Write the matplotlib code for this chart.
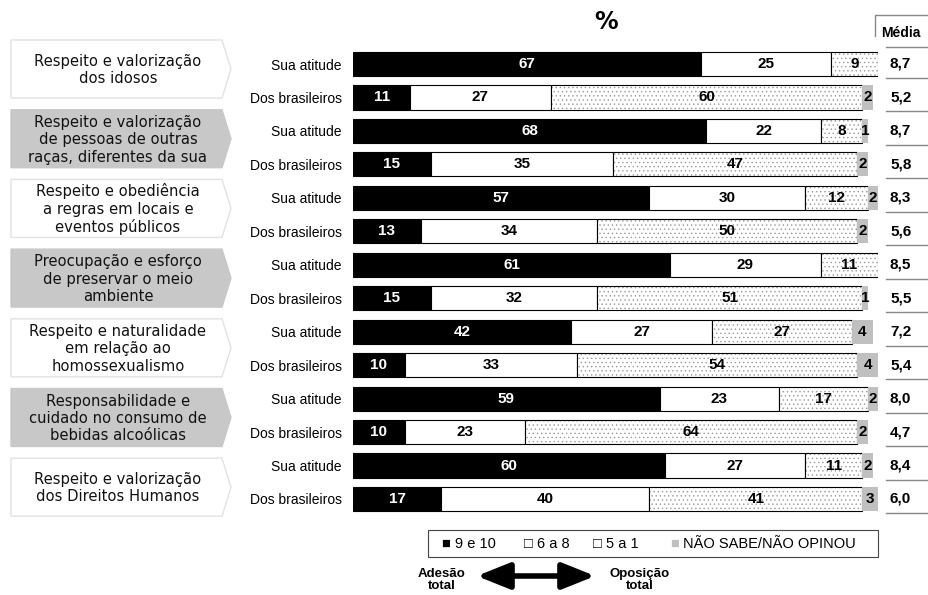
import matplotlib.pyplot as plt
import numpy as np
from matplotlib.patches import Polygon, Rectangle, FancyArrowPatch

# topics (two rows each: "Sua atitude" / "Dos brasileiros")
topics = ['Respeito e valorização\ndos idosos',
          'Respeito e valorização\nde pessoas de outras\nraças, diferentes da sua',
          'Respeito e obediência\na regras em locais e\neventos públicos',
          'Preocupação e esforço\nde preservar o meio\nambiente',
          'Respeito e naturalidade\nem relação ao\nhomossexualismo',
          'Responsabilidade e\ncuidado no consumo de\nbebidas alcoólicas',
          'Respeito e valorização\ndos Direitos Humanos']
row_labels = ['Sua atitude', 'Dos brasileiros'] * 7

nove_dez = [67, 11, 68, 15, 57, 13, 61, 15, 42, 10, 59, 10, 60, 17]
seis_oito = [25, 27, 22, 35, 30, 34, 29, 32, 27, 33, 23, 23, 27, 40]
cinco_um = [9, 60, 8, 47, 12, 50, 11, 51, 27, 54, 17, 64, 11, 41]
nao_sabe = [0, 2, 1, 2, 2, 2, 0, 1, 4, 4, 2, 2, 2, 3]
media = [8.7, 5.2, 8.7, 5.8, 8.3, 5.6, 8.5, 5.5, 7.2, 5.4, 8.0, 4.7, 8.4, 6.0]

W, H = 929, 595
fig = plt.figure(figsize=(W / 100, H / 100), dpi=100)
plt.rcParams['hatch.linewidth'] = 0.5

# pixel overlay for boxes, legend, arrow
ov = fig.add_axes([0, 0, 1, 1])
ov.set_xlim(0, W)
ov.set_ylim(H, 0)
ov.axis('off')

n = len(nove_dez)
top_px, bot_px = 47.3, 515.7
ax = fig.add_axes([353 / W, 1 - bot_px / H, 525 / W, (bot_px - top_px) / H])
ax.set_xlim(0, 101)
ax.set_ylim(n - 0.5, -0.5)
for s in ax.spines.values():
    s.set_visible(False)
ax.set_xticks([])
ax.set_yticks(np.arange(n))
ax.set_yticklabels(row_labels, fontsize=10, family='Liberation Sans')
ax.tick_params(axis='y', length=0, pad=8)

y = np.arange(n)
h = 0.72
a = np.array(nove_dez)
b = np.array(seis_oito)
c = np.array(cinco_um)
d = np.array(nao_sabe)

ax.barh(y, a, h, color='black', edgecolor='black', linewidth=0.8)
ax.barh(y, b, h, left=a, color='white', edgecolor='black', linewidth=0.8)
ax.barh(y, c, h, left=a + b, color='white', edgecolor='#9a9a9a', hatch='....', linewidth=0)
ax.barh(y, c, h, left=a + b, color='none', edgecolor='black', linewidth=0.8)
ax.barh(y, d, h, left=a + b + c, color='#c0c0c0', linewidth=0)

lab = dict(fontsize=11, fontweight='bold', family='Liberation Sans',
           ha='center', va='center')
for i in range(n):
    ax.text(a[i] / 2, i, str(a[i]), color='white', **lab)
    ax.text(a[i] + b[i] / 2, i, str(b[i]), color='black', **lab)
    ax.text(a[i] + b[i] + c[i] / 2, i, str(c[i]), color='black', **lab)
    if d[i]:
        ax.text(a[i] + b[i] + c[i] + d[i] / 2, i, str(d[i]), color='black', **lab)

# topic boxes (arrow-shaped)
for k, t in enumerate(topics):
    cy = 69 + k * 69.7
    y0, y1 = cy - 29, cy + 29
    pts = [(11, y0), (222, y0), (231, cy), (222, y1), (11, y1)]
    if k % 2:
        ov.add_patch(Polygon(pts, closed=True, facecolor='#c8c8c8', edgecolor='#c8c8c8', lw=1))
    else:
        ov.add_patch(Polygon(pts, closed=True, facecolor='white', edgecolor='#e2e2e2', lw=1))
    ov.text(118, cy + 1, t, ha='center', va='center', fontsize=10.6,
            linespacing=1.2, color='#111111', family='DejaVu Sans')

# title
ov.text(606, 22, '%', ha='center', va='center', fontsize=17, fontweight='bold',
        family='DejaVu Sans')

# mean column
ov.plot([875, 875, 929], [36, 15, 15], color='#888888', lw=1)
ov.text(881, 33, 'Média', ha='left', va='center', fontsize=10, fontweight='bold',
        family='Liberation Sans')
ov.plot([886, 929], [47, 47], color='#888888', lw=1)
for i, m in enumerate(media):
    yc = 64 + i * 33.46
    ov.text(890, yc, f'{m:.1f}'.replace('.', ','), ha='left', va='center',
            fontsize=11, fontweight='bold', family='Liberation Sans')
    ov.plot([886, 929], [yc + 14, yc + 14], color='#888888', lw=1)

# legend
ov.add_patch(Rectangle((428, 530), 450, 27, facecolor='white', edgecolor='#444444', lw=0.8))
leg = dict(fontsize=10.5, va='center', ha='left', family=['Liberation Sans', 'DejaVu Sans'])
ov.text(441, 544, '■', color='black', **leg)
ov.text(455, 544, '9 e 10', **leg)
ov.text(524, 544, '□', color='black', **leg)
ov.text(537, 544, '6 a 8', **leg)
ov.text(593, 544, '□', color='black', **leg)
ov.text(606, 544, '5 a 1', **leg)
ov.text(670, 544, '■', color='#c0c0c0', **leg)
ov.text(683, 544, 'NÃO SABE/NÃO OPINOU', **leg)

# adhesion / opposition arrow
ov.add_patch(FancyArrowPatch((474, 576), (598, 576), arrowstyle='<|-|>,head_length=20,head_width=8',
                             mutation_scale=1, lw=4, color='black'))
ov.text(442, 580, 'Adesão\ntotal', ha='center', va='center', fontsize=9.5,
        fontweight='bold', family='Liberation Sans', linespacing=0.9)
ov.text(640, 580, 'Oposição\ntotal', ha='center', va='center', fontsize=9.5,
        fontweight='bold', family='Liberation Sans', linespacing=0.9)

fig.savefig('out.png', dpi=100)
